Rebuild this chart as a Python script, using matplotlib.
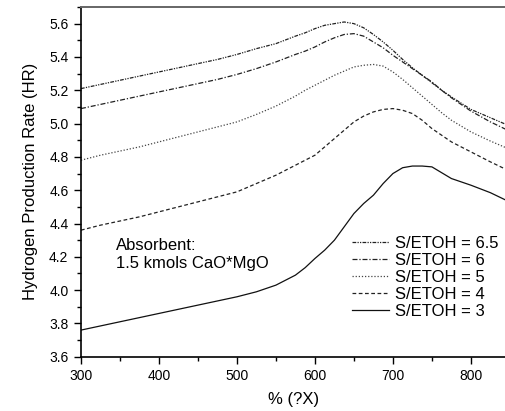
import matplotlib
matplotlib.use('Agg')
import matplotlib.pyplot as plt
from matplotlib.ticker import MultipleLocator

FONT_NAME = 'Liberation Sans'
TICK_FONT_SIZE = 10
LABEL_FONT_SIZE = 12
LEGEND_FONT_SIZE = 12

matplotlib.rcParams['font.family'] = FONT_NAME
matplotlib.rcParams['xtick.labelsize'] = TICK_FONT_SIZE
matplotlib.rcParams['ytick.labelsize'] = TICK_FONT_SIZE

# temperature grid (denser around the peaks)
x_values = [300, 325, 350, 375, 400, 425, 450, 475, 500, 525, 550, 575, 587.5, 600,
            612.5, 625, 637.5, 650, 662.5, 675, 687.5, 700, 712.5, 725, 737.5, 750,
            762.5, 775, 800, 825, 845]

hr_65 = [5.21, 5.235, 5.26, 5.285, 5.31, 5.335, 5.36, 5.385, 5.415, 5.45, 5.48, 5.525, 5.545, 5.57,
         5.59, 5.60, 5.61, 5.60, 5.575, 5.535, 5.49, 5.44, 5.385, 5.335, 5.29, 5.245,
         5.20, 5.16, 5.085, 5.035, 4.995]
hr_6 = [5.09, 5.115, 5.14, 5.165, 5.19, 5.215, 5.24, 5.265, 5.295, 5.33, 5.37, 5.415, 5.435, 5.46,
        5.49, 5.515, 5.535, 5.54, 5.525, 5.49, 5.455, 5.41, 5.37, 5.33, 5.29, 5.25,
        5.20, 5.155, 5.075, 5.01, 4.965]
hr_5 = [4.78, 4.81, 4.835, 4.86, 4.89, 4.92, 4.95, 4.98, 5.01, 5.055, 5.105, 5.165, 5.20, 5.23,
        5.26, 5.29, 5.315, 5.34, 5.35, 5.355, 5.345, 5.31, 5.265, 5.215, 5.165, 5.115,
        5.065, 5.02, 4.95, 4.895, 4.855]
hr_4 = [4.36, 4.39, 4.415, 4.44, 4.47, 4.50, 4.53, 4.56, 4.59, 4.64, 4.69, 4.75, 4.78, 4.81,
        4.86, 4.91, 4.96, 5.01, 5.045, 5.07, 5.085, 5.09, 5.08, 5.06, 5.02, 4.97,
        4.93, 4.89, 4.83, 4.77, 4.725]
hr_3 = [3.76, 3.785, 3.81, 3.835, 3.86, 3.885, 3.91, 3.935, 3.96, 3.99, 4.03, 4.09, 4.135, 4.19,
        4.24, 4.30, 4.38, 4.46, 4.52, 4.57, 4.64, 4.70, 4.735, 4.745, 4.745, 4.74,
        4.705, 4.67, 4.63, 4.585, 4.54]

y_values = [hr_65, hr_6, hr_5, hr_4, hr_3]
legend_labels = ['S/ETOH = 6.5', 'S/ETOH = 6', 'S/ETOH = 5', 'S/ETOH = 4', 'S/ETOH = 3']

LINE_STYLES = [(0, (3, 1, 1, 1, 1, 1)),
               (0, (4, 1.5, 1, 1.5)),
               (0, (1, 1.5)),
               (0, (3, 2)),
               '-']
LINE_COLORS = ['#222222', '#222222', '#444444', '#222222', '#111111']
LINE_WIDTH = 0.9


def DrawFigure():
    fig = plt.figure(figsize=(5.06, 4.11), dpi=100)
    ax = fig.add_axes([0.160, 0.132, 0.840, 0.851])

    lines = []
    for i in range(len(y_values)):
        l, = ax.plot(x_values, y_values[i], color=LINE_COLORS[i],
                     linestyle=LINE_STYLES[i], linewidth=LINE_WIDTH,
                     label=legend_labels[i])
        lines.append(l)

    ax.set_xlim(300, 845)
    ax.set_ylim(3.6, 5.7)
    ax.xaxis.set_major_locator(MultipleLocator(100))
    ax.xaxis.set_minor_locator(MultipleLocator(50))
    ax.yaxis.set_major_locator(MultipleLocator(0.2))
    ax.yaxis.set_minor_locator(MultipleLocator(0.1))
    ax.yaxis.set_major_formatter(matplotlib.ticker.FormatStrFormatter('%.1f'))

    ax.spines['right'].set_visible(False)
    ax.spines['top'].set_color('#666666')
    ax.spines['top'].set_linewidth(1.4)
    for s in ['left', 'bottom']:
        ax.spines[s].set_linewidth(1.2)
    ax.tick_params(which='both', direction='out', top=False, right=False, width=1.0)
    ax.tick_params(which='major', length=5, pad=4)
    ax.tick_params(which='minor', length=3)

    ax.set_xlabel('% (?X)', fontsize=LABEL_FONT_SIZE, labelpad=6)
    ax.set_ylabel('Hydrogen Production Rate (HR)', fontsize=LABEL_FONT_SIZE, labelpad=8)

    ax.text(345, 4.31, 'Absorbent:\n1.5 kmols CaO*MgO', fontsize=LEGEND_FONT_SIZE,
            va='top', ha='left', linespacing=1.2)

    fig.legend(lines, legend_labels, loc='upper left',
               bbox_to_anchor=(352 / 506, 1 - 236 / 411),
               fontsize=LEGEND_FONT_SIZE, frameon=False, borderpad=0,
               borderaxespad=0, handlelength=2.2, handletextpad=0.4,
               labelspacing=0.12)

    fig.savefig('out.png', dpi=100)


if __name__ == "__main__":
    DrawFigure()
